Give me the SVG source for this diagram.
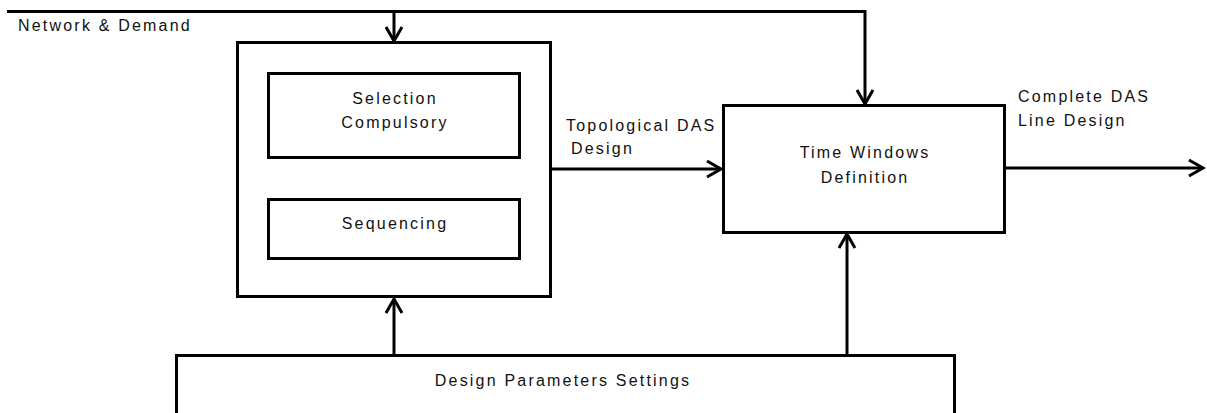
<svg xmlns="http://www.w3.org/2000/svg" width="1207" height="413" viewBox="0 0 1207 413">
<defs>
<style>
.box{fill:#fff;stroke:#000;stroke-width:3}
.ln{fill:none;stroke:#000;stroke-width:3}
.ah{fill:none;stroke:#000;stroke-width:3;stroke-linejoin:miter}
text{font-family:"Liberation Sans",Arial,sans-serif;font-size:16px;fill:#111;letter-spacing:2.2px}
.c{text-anchor:middle}
</style>
</defs>
<rect width="1207" height="413" fill="#fff"/>
<g id="connectors">
<path class="ln" d="M7 11.5 H865 V104"/>
<path class="ah" d="M857 90 L865 104 L873 90"/>
<path class="ln" d="M394 11.5 V41"/>
<path class="ah" d="M386 27 L394 41 L402 27"/>
<path class="ln" d="M551 169 H721"/>
<path class="ah" d="M707 161 L721 169 L707 177"/>
<path class="ln" d="M1005 168 H1203"/>
<path class="ah" d="M1189 160 L1203 168 L1189 176"/>
<path class="ln" d="M394 355 V299"/>
<path class="ah" d="M386 313 L394 299 L402 313"/>
<path class="ln" d="M847 355 V234"/>
<path class="ah" d="M839 248 L847 234 L855 248"/>
<text x="18" y="31">Network &amp; Demand</text>
<text x="566" y="131">Topological DAS</text>
<text x="571" y="154">Design</text>
<text x="1018" y="102">Complete DAS</text>
<text x="1018" y="126">Line Design</text>
</g>
<g id="outer">
<rect class="box" x="237.5" y="42.5" width="313" height="254"/>
</g>
<g id="selection">
<rect class="box" x="268.5" y="73.5" width="251" height="84"/>
<text class="c" x="395" y="104">Selection</text>
<text class="c" x="395" y="128">Compulsory</text>
</g>
<g id="sequencing">
<rect class="box" x="268.5" y="199.5" width="251" height="59"/>
<text class="c" x="395" y="229">Sequencing</text>
</g>
<g id="timewindows">
<rect class="box" x="723.5" y="105.5" width="281" height="127"/>
<text class="c" x="865" y="158">Time Windows</text>
<text class="c" x="865" y="183">Definition</text>
</g>
<g id="params">
<rect class="box" x="176.5" y="355.5" width="778" height="70"/>
<text class="c" x="563" y="386">Design Parameters Settings</text>
</g>
</svg>
